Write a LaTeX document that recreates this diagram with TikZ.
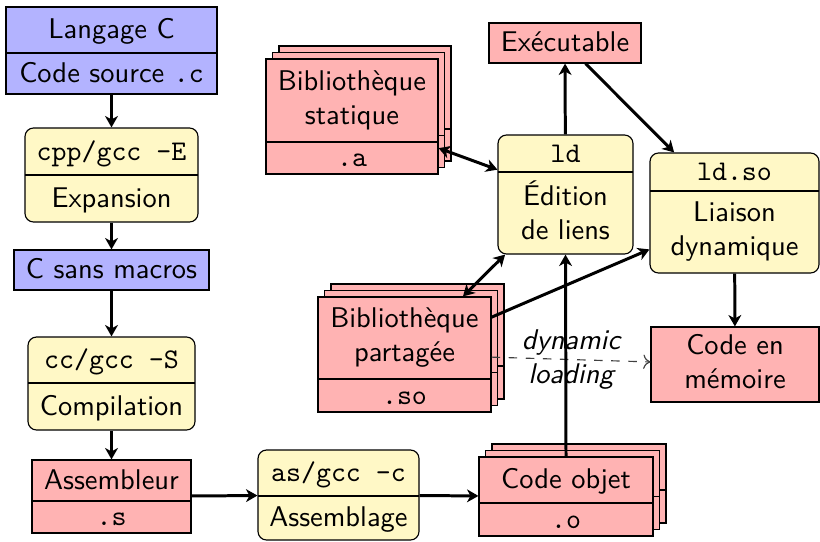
\documentclass[tikz,border=0pt]{standalone}
\usetikzlibrary{arrows.meta,fit}

\definecolor{boxblue}{RGB}{179,179,255}
\definecolor{boxred}{RGB}{255,179,179}
\definecolor{boxyellow}{RGB}{255,248,198}

% single box: style, name, left, right, top, bottom, text
\newcommand\onebox[7]{%
  \node[#1, fit={(#3,#5) (#4,#6)}] (#2) {};
  \node[ptext] (#2-t) at ({(#3+#4)/2},{(#5+#6)/2}) {#7};}

% box split in two parts: style, name, left, right, top, divider, bottom, upper, lower
\newcommand\twobox[9]{%
  \node[#1, fit={(#3,#5) (#4,#7)}] (#2) {};
  \draw (#3,#6) -- (#4,#6);
  \node[ptext] (#2-u) at ({(#3+#4)/2},{(#5+#6)/2}) {#8};
  \node[ptext] (#2-l) at ({(#3+#4)/2},{(#6+#7)/2}) {#9};}

% same, with two copies stacked behind
\newcommand\stackbox[9]{%
  \foreach \k in {2,1}{%
    \path[#1] ({#3+6.5*\k},{#5-6.5*\k}) rectangle ({#4+6.5*\k},{#7-6.5*\k});
    \draw ({#3+6.5*\k},{#6-6.5*\k}) -- ({#4+6.5*\k},{#6-6.5*\k});}
  \twobox{#1}{#2}{#3}{#4}{#5}{#6}{#7}{#8}{#9}}

\begin{document}
\begin{tikzpicture}[x=0.351pt, y=-0.351pt, font=\sffamily,
  bluebox/.style={draw, fill=boxblue, inner sep=0pt},
  redbox/.style={draw, fill=boxred, inner sep=0pt},
  yellowbox/.style={draw, fill=boxyellow, rounded corners=3pt, inner sep=0pt},
  ptext/.style={align=center, inner sep=0pt, yshift=-0.7pt,
    execute at begin node=\strut, execute at end node=\strut},
  tip/.tip={Stealth[length=4pt, width=4.5pt, inset=1.2pt]},
  flow/.style={line width=1.05pt, -tip},
  both/.style={line width=1.05pt, tip-tip},
  dyn/.style={dashed, black!75, -{To[length=2.5pt, width=5pt]}}]

\useasboundingbox (0,0) rectangle (820,541);

% left column
\twobox{bluebox}{lang}{6}{217}{7}{53}{94}{Langage C}{Code source \texttt{.c}}
\twobox{yellowbox}{cpp}{25}{198}{128}{175}{222}{\texttt{cpp/gcc -E}}{Expansion}
\onebox{bluebox}{csm}{14}{209}{250}{290}{C sans macros}
\twobox{yellowbox}{cc}{28}{195}{337}{383}{430}{\texttt{cc/gcc -S}}{Compilation}
\twobox{redbox}{asm}{32}{191}{460}{501}{533}{Assembleur}{\texttt{.s}}

% bottom row
\twobox{yellowbox}{as}{258}{419}{450}{496}{540}{\texttt{as/gcc -c}}{Assemblage}
\stackbox{redbox}{obj}{479}{653}{457}{503}{536}{Code objet}{\texttt{.o}}

% libraries
\stackbox{redbox}{stat}{266}{438}{59}{142}{174}{Bibliothèque\\statique}{\texttt{.a}}
\stackbox{redbox}{part}{318}{491}{297}{379}{412}{Bibliothèque\\partagée}{\texttt{.so}}

% linking and loading
\onebox{redbox}{exe}{489}{641}{23}{63}{Exécutable}
\twobox{yellowbox}{ld}{498}{633}{135}{172}{254}{\texttt{ld}}{Édition\\de liens}
\twobox{yellowbox}{ldso}{650}{819}{153}{191}{273}{\texttt{ld.so}}{Liaison\\dynamique}
\onebox{redbox}{mem}{651}{819}{327}{402}{Code en\\mémoire}

% connectors
\draw[flow] (lang) -- (cpp);
\draw[flow] (cpp) -- (csm);
\draw[flow] (csm) -- (cc);
\draw[flow] (cc) -- (asm);
\draw[flow] (asm) -- (as);
\draw[flow] (as) -- (obj);
\draw[dyn] (part) -- node[midway, align=center, font=\sffamily\itshape, text=black]
  {dynamic\\loading} (mem);
\draw[flow] (obj.north) -- (ld.south);
\draw[flow] (ld) -- (exe);
\draw[flow] (exe) -- (ldso);
\draw[both] (stat) -- (ld);
\draw[both] (part) -- (ld);
\draw[flow] (part) -- (ldso);
\draw[flow] (ldso) -- (mem);
\end{tikzpicture}
\end{document}
